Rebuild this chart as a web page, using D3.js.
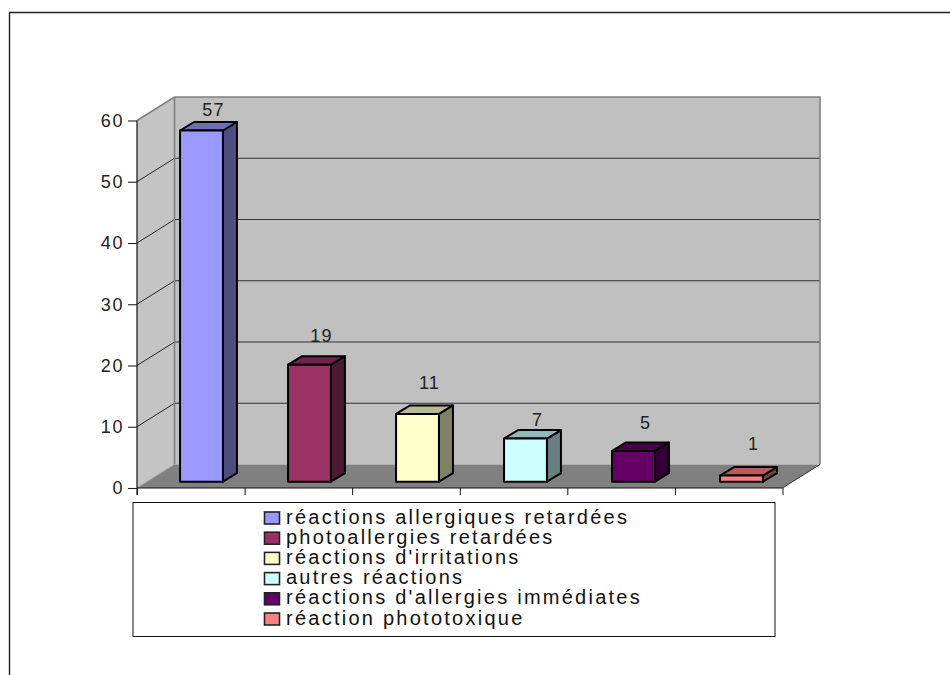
<!DOCTYPE html>
<html><head><meta charset="utf-8">
<script src="https://cdnjs.cloudflare.com/ajax/libs/d3/7.8.5/d3.min.js"></script>
<style>html,body{margin:0;padding:0;background:#fff}svg{display:block}text{font-family:"Liberation Sans",Arial,sans-serif;fill:#111}</style>
</head><body><div id="c"></div>
<script>
const categories = ["réactions allergiques retardées","photoallergies retardées","réactions d'irritations","autres réactions","réactions d'allergies immédiates","réaction phototoxique"];
const values = [57,19,11,7,5,1];
const yTicks = [0,10,20,30,40,50,60];
const fills = ["#9999ff","#993366","#ffffcc","#ccffff","#660066","#ff8080"];

const W=950,H=675;
const svg=d3.select("#c").append("svg").attr("width",W).attr("height",H);
// outer frame
svg.append("path").attr("d","M9.5,675V12.5H950").attr("fill","none").attr("stroke","#222").attr("stroke-width",1.4);

const x0=137,x1=782.5,yB=488,yT=120.5,dx=37.5,dy=23.5;
const y=d3.scaleLinear().domain([0,60]).range([yB,yT]);
const x=d3.scaleBand().domain(categories).range([x0,x1+2.5]).paddingInner(0.603).paddingOuter(0.3015);
const line=d3.line();

// side wall, back wall, floor
const g=svg.append("g");
g.append("path").attr("d",line([[x0,y(0)],[x0+dx,y(0)-dy],[x0+dx,y(60)-dy],[x0,y(60)]])+"Z").attr("fill","#c4c4c4");
g.append("path").attr("d",line([[x0+dx,y(0)-dy],[x1+dx,y(0)-dy],[x1+dx,y(60)-dy],[x0+dx,y(60)-dy]])+"Z").attr("fill","#c0c0c0");
g.append("path").attr("d",line([[x0,y(0)],[x1,y(0)],[x1+dx,y(0)-dy],[x0+dx,y(0)-dy]])+"Z").attr("fill","#808080");

// gridlines
yTicks.filter(t=>t>0&&t<60).forEach(t=>{
  g.append("line").attr("x1",x0).attr("y1",y(t)).attr("x2",x0+dx).attr("y2",y(t)-dy).attr("stroke","#111").attr("stroke-width",0.9);
  g.append("line").attr("x1",x0+dx).attr("y1",y(t)-dy).attr("x2",x1+dx).attr("y2",y(t)-dy).attr("stroke","#222").attr("stroke-width",0.9);
});
// wall borders
g.append("path").attr("d",line([[x0,y(60)],[x0+dx,y(60)-dy],[x1+dx,y(60)-dy],[x1+dx,y(0)-dy]])).attr("fill","none").attr("stroke","#808080").attr("stroke-width",1.6);
g.append("line").attr("x1",x0+dx).attr("y1",y(60)-dy).attr("x2",x0+dx).attr("y2",y(0)-dy).attr("stroke","#808080").attr("stroke-width",1.6);
g.append("line").attr("x1",x0).attr("y1",y(0)).attr("x2",x0+dx).attr("y2",y(0)-dy).attr("stroke","#999").attr("stroke-width",0.9);
g.append("line").attr("x1",x1).attr("y1",y(0)).attr("x2",x1+dx).attr("y2",y(0)-dy).attr("stroke","#111").attr("stroke-width",0.8);

// axes
const ax=svg.append("g").attr("transform",`translate(${x0},0)`)
  .call(d3.axisLeft(y).tickValues(yTicks).tickSize(9).tickPadding(4));
ax.selectAll("path").attr("stroke","#111").attr("stroke-width",1.2).attr("d",`M0,${yT}V${yB+7}`);
ax.selectAll("line").attr("stroke","#222").attr("stroke-width",1.1);
ax.selectAll("text").style("font-size","18px").attr("letter-spacing","1.6px").style("fill","#222").attr("font-family",null);

const xTickScale=d3.scalePoint().domain(d3.range(7)).range([x0,x1]);
const bx=svg.append("g").attr("transform",`translate(0,${yB})`)
  .call(d3.axisBottom(xTickScale).tickSize(7).tickFormat(""));
bx.selectAll("path").attr("stroke","#111").attr("stroke-width",1.1).attr("d",`M${x0},0H${x1}`);
bx.selectAll("line").attr("stroke","#111").attr("stroke-width",1);

// bars
const off=10.5,base=6.3,bd=14,bh=8.5,k=1.006;
const lift=[21,29,31,19,28,32];
const shade=(c,f)=>{const r=d3.rgb(c);return d3.rgb(r.r*f,r.g*f,r.b*f).formatHex();};
const bars=svg.append("g").selectAll("g").data(values).join("g");
const L=(d,i)=>x(categories[i])+off, R=(d,i)=>L(d,i)+x.bandwidth();
const B=yB-base, Tp=d=>B-(yB-y(d))*k;
const st=s=>s.attr("stroke","#000").attr("stroke-width",2).attr("stroke-linejoin","round");
bars.append("path").attr("d",(d,i)=>line([[R(d,i),B],[R(d,i)+bd,B-bh],[R(d,i)+bd,Tp(d)-bh],[R(d,i),Tp(d)]])+"Z").attr("fill",(d,i)=>shade(fills[i],.5)).call(st);
bars.append("path").attr("d",(d,i)=>line([[L(d,i),Tp(d)],[L(d,i)+bd,Tp(d)-bh],[R(d,i)+bd,Tp(d)-bh],[R(d,i),Tp(d)]])+"Z").attr("fill",(d,i)=>shade(fills[i],.72)).call(st);
bars.append("rect").attr("x",L).attr("y",Tp).attr("width",x.bandwidth()).attr("height",d=>B-Tp(d)).attr("fill",(d,i)=>fills[i]).call(st);
bars.append("text").attr("x",(d,i)=>L(d,i)+33.5).attr("y",(d,i)=>Tp(d)-lift[i]+6.5).attr("text-anchor","middle").style("font-size","18px").attr("letter-spacing","1.2px").style("fill","#222").text(d=>d);

// legend
svg.append("rect").attr("x",133).attr("y",502.5).attr("width",642).attr("height",134).attr("fill","#fff").attr("stroke","#111").attr("stroke-width",1);
const ly=d3.scalePoint().domain(categories).range([517,618]);
const lg=svg.append("g").selectAll("g").data(categories).join("g").attr("transform",d=>`translate(0,${ly(d)})`);
lg.append("rect").attr("x",264.5).attr("y",-5).attr("width",15).attr("height",12).attr("fill",(d,i)=>fills[i]).attr("stroke","#222").attr("stroke-width",1.6);
lg.append("text").attr("x",286).attr("y",6.5).style("font-size","20px").attr("letter-spacing","2.25px").text(d=>d);
</script></body></html>
